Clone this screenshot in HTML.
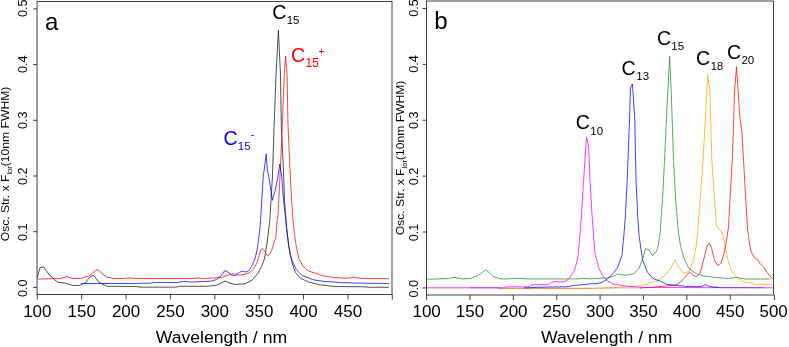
<!DOCTYPE html>
<html><head><meta charset="utf-8"><title>Spectra</title>
<style>
html,body{margin:0;padding:0;background:#fff;}
body{width:789px;height:347px;overflow:hidden;}
svg{display:block;will-change:transform;font-family:"Liberation Sans",sans-serif;}
</style></head><body>
<svg width="789" height="347" viewBox="0 0 789 347">
<rect width="789" height="347" fill="#fff"/>
<rect x="37.05" y="1.5" width="354.95" height="293.00" fill="none" stroke="#2e2e2e" stroke-width="0.9"/>
<line x1="37.30" y1="294.5" x2="37.30" y2="299.5" stroke="#2e2e2e" stroke-width="0.9"/>
<text transform="translate(37.30,317.3) scale(1.03,1)" font-size="16.5" text-anchor="middle">100</text>
<line x1="81.67" y1="294.5" x2="81.67" y2="299.5" stroke="#2e2e2e" stroke-width="0.9"/>
<text transform="translate(81.67,317.3) scale(1.03,1)" font-size="16.5" text-anchor="middle">150</text>
<line x1="126.05" y1="294.5" x2="126.05" y2="299.5" stroke="#2e2e2e" stroke-width="0.9"/>
<text transform="translate(126.05,317.3) scale(1.03,1)" font-size="16.5" text-anchor="middle">200</text>
<line x1="170.43" y1="294.5" x2="170.43" y2="299.5" stroke="#2e2e2e" stroke-width="0.9"/>
<text transform="translate(170.43,317.3) scale(1.03,1)" font-size="16.5" text-anchor="middle">250</text>
<line x1="214.80" y1="294.5" x2="214.80" y2="299.5" stroke="#2e2e2e" stroke-width="0.9"/>
<text transform="translate(214.80,317.3) scale(1.03,1)" font-size="16.5" text-anchor="middle">300</text>
<line x1="259.18" y1="294.5" x2="259.18" y2="299.5" stroke="#2e2e2e" stroke-width="0.9"/>
<text transform="translate(259.18,317.3) scale(1.03,1)" font-size="16.5" text-anchor="middle">350</text>
<line x1="303.55" y1="294.5" x2="303.55" y2="299.5" stroke="#2e2e2e" stroke-width="0.9"/>
<text transform="translate(303.55,317.3) scale(1.03,1)" font-size="16.5" text-anchor="middle">400</text>
<line x1="347.93" y1="294.5" x2="347.93" y2="299.5" stroke="#2e2e2e" stroke-width="0.9"/>
<text transform="translate(347.93,317.3) scale(1.03,1)" font-size="16.5" text-anchor="middle">450</text>
<line x1="392.30" y1="294.5" x2="392.30" y2="299.5" stroke="#2e2e2e" stroke-width="0.9"/>
<line x1="33.05" y1="287.40" x2="37.05" y2="287.40" stroke="#2e2e2e" stroke-width="0.9"/>
<text transform="translate(26.90,288.20) rotate(-90) scale(1.06,1)" font-size="11.9" text-anchor="middle">0.0</text>
<line x1="33.05" y1="231.70" x2="37.05" y2="231.70" stroke="#2e2e2e" stroke-width="0.9"/>
<text transform="translate(26.90,232.23) rotate(-90) scale(1.06,1)" font-size="11.9" text-anchor="middle">0.1</text>
<line x1="33.05" y1="176.00" x2="37.05" y2="176.00" stroke="#2e2e2e" stroke-width="0.9"/>
<text transform="translate(26.90,176.26) rotate(-90) scale(1.06,1)" font-size="11.9" text-anchor="middle">0.2</text>
<line x1="33.05" y1="120.30" x2="37.05" y2="120.30" stroke="#2e2e2e" stroke-width="0.9"/>
<text transform="translate(26.90,120.29) rotate(-90) scale(1.06,1)" font-size="11.9" text-anchor="middle">0.3</text>
<line x1="33.05" y1="64.60" x2="37.05" y2="64.60" stroke="#2e2e2e" stroke-width="0.9"/>
<text transform="translate(26.90,64.32) rotate(-90) scale(1.06,1)" font-size="11.9" text-anchor="middle">0.4</text>
<line x1="33.05" y1="8.90" x2="37.05" y2="8.90" stroke="#2e2e2e" stroke-width="0.9"/>
<text transform="translate(26.90,8.35) rotate(-90) scale(1.06,1)" font-size="11.9" text-anchor="middle">0.5</text>
<text transform="translate(9.20,164.0) rotate(-90) scale(1.055,1)" font-size="11.5" text-anchor="middle">Osc. Str. x F<tspan font-size="7.2" dy="2.8">lor</tspan><tspan dy="-2.8">(10nm FWHM)</tspan></text>
<text transform="translate(221.40,342.6) scale(1.035,1)" font-size="17.0" text-anchor="middle">Wavelength / nm</text>
<rect x="426.5" y="1.0" width="347.00" height="294.00" fill="none" stroke="#2e2e2e" stroke-width="0.9"/>
<line x1="426.60" y1="295.0" x2="426.60" y2="300.0" stroke="#2e2e2e" stroke-width="0.9"/>
<text transform="translate(426.60,317.3) scale(1.03,1)" font-size="16.5" text-anchor="middle">100</text>
<line x1="469.98" y1="295.0" x2="469.98" y2="300.0" stroke="#2e2e2e" stroke-width="0.9"/>
<text transform="translate(469.98,317.3) scale(1.03,1)" font-size="16.5" text-anchor="middle">150</text>
<line x1="513.35" y1="295.0" x2="513.35" y2="300.0" stroke="#2e2e2e" stroke-width="0.9"/>
<text transform="translate(513.35,317.3) scale(1.03,1)" font-size="16.5" text-anchor="middle">200</text>
<line x1="556.73" y1="295.0" x2="556.73" y2="300.0" stroke="#2e2e2e" stroke-width="0.9"/>
<text transform="translate(556.73,317.3) scale(1.03,1)" font-size="16.5" text-anchor="middle">250</text>
<line x1="600.10" y1="295.0" x2="600.10" y2="300.0" stroke="#2e2e2e" stroke-width="0.9"/>
<text transform="translate(600.10,317.3) scale(1.03,1)" font-size="16.5" text-anchor="middle">300</text>
<line x1="643.48" y1="295.0" x2="643.48" y2="300.0" stroke="#2e2e2e" stroke-width="0.9"/>
<text transform="translate(643.48,317.3) scale(1.03,1)" font-size="16.5" text-anchor="middle">350</text>
<line x1="686.85" y1="295.0" x2="686.85" y2="300.0" stroke="#2e2e2e" stroke-width="0.9"/>
<text transform="translate(686.85,317.3) scale(1.03,1)" font-size="16.5" text-anchor="middle">400</text>
<line x1="730.23" y1="295.0" x2="730.23" y2="300.0" stroke="#2e2e2e" stroke-width="0.9"/>
<text transform="translate(730.23,317.3) scale(1.03,1)" font-size="16.5" text-anchor="middle">450</text>
<line x1="774.45" y1="295.0" x2="774.45" y2="300.0" stroke="#2e2e2e" stroke-width="0.9"/>
<text transform="translate(773.60,317.3) scale(1.03,1)" font-size="16.5" text-anchor="middle">500</text>
<line x1="422.5" y1="287.90" x2="426.5" y2="287.90" stroke="#2e2e2e" stroke-width="0.9"/>
<text transform="translate(418.00,288.70) rotate(-90) scale(1.06,1)" font-size="11.9" text-anchor="middle">0.0</text>
<line x1="422.5" y1="232.02" x2="426.5" y2="232.02" stroke="#2e2e2e" stroke-width="0.9"/>
<text transform="translate(418.00,232.55) rotate(-90) scale(1.06,1)" font-size="11.9" text-anchor="middle">0.1</text>
<line x1="422.5" y1="176.14" x2="426.5" y2="176.14" stroke="#2e2e2e" stroke-width="0.9"/>
<text transform="translate(418.00,176.40) rotate(-90) scale(1.06,1)" font-size="11.9" text-anchor="middle">0.2</text>
<line x1="422.5" y1="120.26" x2="426.5" y2="120.26" stroke="#2e2e2e" stroke-width="0.9"/>
<text transform="translate(418.00,120.25) rotate(-90) scale(1.06,1)" font-size="11.9" text-anchor="middle">0.3</text>
<line x1="422.5" y1="64.38" x2="426.5" y2="64.38" stroke="#2e2e2e" stroke-width="0.9"/>
<text transform="translate(418.00,64.10) rotate(-90) scale(1.06,1)" font-size="11.9" text-anchor="middle">0.4</text>
<line x1="422.5" y1="8.50" x2="426.5" y2="8.50" stroke="#2e2e2e" stroke-width="0.9"/>
<text transform="translate(418.00,7.95) rotate(-90) scale(1.06,1)" font-size="11.9" text-anchor="middle">0.5</text>
<text transform="translate(403.80,157.9) rotate(-90) scale(1.055,1)" font-size="11.5" text-anchor="middle">Osc. Str. x F<tspan font-size="7.2" dy="2.8">lor</tspan><tspan dy="-2.8">(10nm FWHM)</tspan></text>
<text transform="translate(606.70,342.6) scale(1.035,1)" font-size="17.0" text-anchor="middle">Wavelength / nm</text>
<polyline points="37.30,277.45 40.10,267.55 43.60,266.95 45.10,269.15 48.90,274.05 54.00,279.35 57.80,282.25 65.40,283.15 72.40,285.45 79.40,285.45 85.70,282.45 90.10,276.45 93.60,275.25 95.80,278.05 99.00,282.45 107.20,286.35 135.00,286.45 140.00,287.15 175.60,287.15 179.40,286.30 207.20,286.30 216.10,285.25 221.20,283.15 225.20,280.95 230.00,283.15 235.00,284.45 245.00,283.75 252.00,280.25 258.00,273.25 262.00,265.25 264.40,259.25 267.00,243.15 268.90,227.95 269.80,220.25 272.50,175.25 274.10,125.25 276.00,75.25 278.40,30.25 280.50,75.25 281.30,125.25 283.50,172.25 284.50,200.25 286.40,226.25 288.60,245.25 290.50,256.25 292.00,262.75 295.50,272.55 300.30,278.15 308.70,282.05 319.90,284.85 335.20,286.55 363.10,286.75 368.70,287.25 388.90,287.25" fill="none" stroke="#111" stroke-width="0.74" stroke-linejoin="round"/>
<polyline points="37.30,279.10 60.30,278.50 66.70,276.60 73.00,278.50 80.60,278.50 88.20,276.20 97.10,269.60 99.60,271.10 106.00,276.80 113.60,278.50 123.70,278.50 128.80,277.90 135.00,278.50 194.60,278.50 198.40,277.90 203.40,278.70 211.00,278.10 221.20,277.50 226.50,275.70 232.30,273.70 235.80,274.10 239.20,275.20 245.00,274.30 249.60,272.60 253.10,269.70 256.50,263.90 258.80,257.00 260.60,250.30 261.90,248.50 264.50,250.80 267.60,256.10 270.00,253.80 272.00,249.50 275.80,236.80 277.20,220.30 278.00,215.30 280.20,172.30 282.30,125.30 284.20,75.30 285.60,56.30 287.10,75.30 288.00,125.30 290.00,170.30 291.60,200.30 293.20,222.30 294.20,231.80 296.10,245.70 298.90,258.70 303.10,266.30 308.00,270.90 317.10,273.60 322.70,275.70 333.80,277.50 346.40,278.20 354.70,277.50 363.10,278.60 388.90,278.60" fill="none" stroke="#f00" stroke-width="0.74" stroke-linejoin="round"/>
<polyline points="81.30,283.50 135.00,283.50 150.20,283.10 155.30,282.50 176.80,282.50 184.40,281.40 192.00,282.20 200.90,281.60 211.00,281.20 216.10,279.70 221.20,275.90 224.80,270.50 227.70,271.90 231.70,275.10 235.80,275.40 239.20,272.50 242.10,271.30 245.60,271.90 249.00,270.50 251.90,266.10 254.80,259.20 257.10,250.00 258.10,242.90 260.00,227.70 260.90,215.00 263.30,175.00 264.20,170.00 266.20,153.80 267.40,170.00 268.50,175.00 272.40,200.30 275.30,190.00 278.20,175.00 279.00,170.00 279.70,164.00 280.70,170.00 281.60,175.00 283.50,200.00 285.80,220.00 288.60,245.00 290.80,256.00 292.40,261.20 296.20,269.50 301.70,275.10 312.90,279.70 324.05,281.40 340.80,282.50 354.70,283.05 388.90,283.50" fill="none" stroke="#00f" stroke-width="0.74" stroke-linejoin="round"/>
<polyline points="498.50,288.35 590.00,288.30 610.00,287.80 625.00,286.90 639.00,285.90 647.30,284.10 657.40,280.40 664.80,275.80 670.40,268.40 675.30,260.10 678.70,266.60 682.30,272.10 686.00,273.40 689.70,270.20 693.30,260.50 696.30,246.30 697.80,230.00 700.50,195.00 703.10,160.00 706.90,90.00 707.60,74.80 709.90,90.00 711.80,160.00 714.20,195.00 716.50,226.00 717.70,228.40 720.90,229.90 723.10,235.90 725.20,246.50 728.40,261.50 731.60,271.10 735.90,276.40 742.30,281.10 747.00,282.60 752.50,283.20 755.00,284.40 770.90,284.40 772.30,285.50 773.30,285.70" fill="none" stroke="#ffa000" stroke-width="0.74" stroke-linejoin="round"/>
<polyline points="498.50,288.35 590.00,288.30 610.00,288.00 641.00,288.00" fill="none" stroke="#f00" stroke-width="0.74" stroke-linejoin="round" stroke-opacity="0.4"/>
<polyline points="640.00,288.00 653.70,287.20 675.90,285.00 681.40,281.30 686.00,276.20 689.70,272.10 692.50,274.90 696.20,276.70 699.90,273.90 703.80,259.30 706.90,246.40 709.20,243.30 711.50,247.80 714.50,260.40 717.70,265.30 720.90,263.60 724.10,252.90 727.30,235.90 728.60,226.00 730.20,195.00 732.30,160.00 734.60,90.00 736.50,66.80 738.10,90.00 739.75,116.00 741.80,130.30 743.50,160.00 745.50,195.00 747.50,228.00 748.70,238.00 750.80,250.80 754.00,257.20 757.20,259.30 760.40,264.20 763.60,266.80 766.80,272.10 770.00,276.40 773.20,279.00" fill="none" stroke="#f00" stroke-width="0.74" stroke-linejoin="round"/>
<polyline points="426.60,287.80 500.00,287.80 503.50,287.70 506.00,286.90 527.30,286.80 530.50,285.80 533.60,284.60 540.20,284.80 547.30,284.70 550.50,283.20 554.00,281.60 555.60,281.50 558.70,281.90 564.00,281.90 567.00,280.20 569.40,278.00 573.80,271.50 576.30,263.90 577.30,260.00 578.20,255.00 581.20,219.20 583.60,180.00 586.50,136.90 588.60,146.30 589.40,165.00 589.90,180.00 592.30,219.20 595.10,255.00 596.90,260.00 598.50,267.70 602.30,275.30 607.40,281.00 613.70,284.20 622.40,285.70 631.60,286.70 645.00,287.50 773.50,287.80" fill="none" stroke="#ff00ff" stroke-width="0.78" stroke-linejoin="round"/>
<polyline points="470.00,287.80 499.00,287.80" fill="none" stroke="#00f" stroke-width="0.74" stroke-linejoin="round" stroke-opacity="0.5"/>
<polyline points="716.00,287.40 722.00,287.60 763.60,287.70" fill="none" stroke="#00f" stroke-width="0.74" stroke-linejoin="round" stroke-opacity="0.55"/>
<polyline points="524.00,287.90 527.00,287.80 537.70,287.30 568.10,286.70 573.20,285.40 585.80,284.50 592.20,283.50 596.00,283.90 602.30,282.20 607.40,279.10 613.70,272.70 617.50,267.70 620.30,260.00 622.00,255.00 623.90,235.00 625.20,219.20 627.20,180.00 629.50,120.00 630.10,100.00 630.50,88.10 632.40,83.90 633.50,100.00 634.80,120.00 636.00,180.00 637.90,219.20 639.00,235.00 640.80,247.90 642.70,260.40 647.30,271.90 652.80,278.40 660.20,281.10 666.70,284.30 674.00,285.20 685.10,286.30 698.00,286.70 702.00,286.30 705.40,284.60 709.00,286.30 712.40,286.90 718.00,287.40" fill="none" stroke="#00f" stroke-width="0.74" stroke-linejoin="round"/>
<polyline points="426.60,279.30 447.80,278.60 454.20,277.40 463.00,279.00 470.60,278.40 478.20,275.50 485.60,270.00 488.40,271.70 493.40,276.70 501.00,278.90 507.40,278.90 513.70,278.40 520.10,278.40 525.00,278.90 578.20,278.90 583.30,278.30 589.60,278.90 596.00,278.30 607.40,278.00 613.70,276.10 618.20,273.80 621.30,274.80 625.00,275.20 633.50,273.90 639.00,268.40 642.70,259.20 645.50,248.60 649.10,250.00 652.40,255.80 656.50,251.60 657.90,246.80 660.20,232.00 662.50,200.00 664.50,160.00 667.80,90.00 668.20,85.00 669.60,56.40 670.90,85.00 671.20,90.00 673.50,160.00 675.60,200.00 678.40,232.00 680.50,246.10 684.20,259.00 688.80,268.20 696.20,273.70 702.80,275.80 715.60,277.50 728.40,278.50 735.90,277.50 745.50,279.00 770.60,279.00" fill="none" stroke="#228b22" stroke-width="0.74" stroke-linejoin="round"/>
<text x="45" y="29.7" font-size="24">a</text>
<text x="434.2" y="28.75" font-size="24.2">b</text>
<text x="272.2" y="19.3" font-size="19.6" fill="#000">C<tspan font-size="11.5" dy="4.2" dx="0.3">15</tspan></text>
<text x="291" y="61.7" font-size="19.6" fill="#f00">C<tspan font-size="12.0" dy="5.4" dx="0.4">15</tspan><tspan font-size="10.6" dy="-11.80" dx="-0.5">+</tspan></text>
<text x="223.6" y="145.3" font-size="19.6" fill="#00f">C<tspan font-size="11.5" dy="4.2" dx="0.0">15</tspan><tspan font-size="10.6" dy="-11.90" dx="0.1">-</tspan></text>
<text x="575.8" y="129.3" font-size="19.6" fill="#000">C<tspan font-size="11.5" dy="5.4" dx="0.3">10</tspan></text>
<text x="621.4" y="75.3" font-size="19.6" fill="#000">C<tspan font-size="11.5" dy="5.1" dx="0.7">13</tspan></text>
<text x="656.9" y="45.0" font-size="19.6" fill="#000">C<tspan font-size="11.5" dy="5.1" dx="0.3">15</tspan></text>
<text x="695.9" y="64.8" font-size="19.6" fill="#000">C<tspan font-size="11.0" dy="5.5" dx="0.8">18</tspan></text>
<text x="727.0" y="58.6" font-size="19.6" fill="#000">C<tspan font-size="11.5" dy="5.05" dx="0.3">20</tspan></text>
</svg>
</body></html>
